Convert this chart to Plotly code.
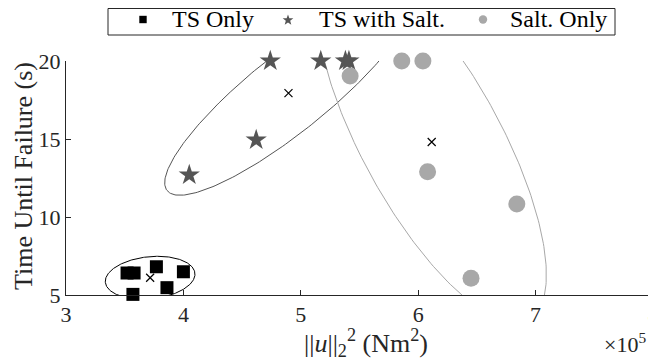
import numpy as np
import plotly.graph_objects as go

# Data (x in units of 1e5 N m^2, y in seconds)
ts_only_x = [3.52, 3.58, 3.77, 4.00, 3.57, 3.86]
ts_only_y = [6.41, 6.41, 6.81, 6.49, 5.04, 5.47]

ts_salt_x = [4.74, 5.17, 5.38, 5.41, 4.62, 4.05]
ts_salt_y = [20.0, 20.0, 20.0, 20.0, 14.94, 12.69]

salt_only_x = [5.86, 6.04, 5.42, 6.08, 6.84, 6.45]
salt_only_y = [20.0, 20.0, 19.04, 12.90, 10.83, 6.07]

series_names = ["TS Only", "TS with Salt.", "Salt. Only"]
x_ticks = [3, 4, 5, 6, 7, 8]
y_ticks = [5, 10, 15, 20]

FONT = "Liberation Serif, Times New Roman, serif"
AX = "#262626"

styles = [("square", 13, "#000000"), ("star", 16, "#555555"), ("circle", 17, "#a8a8a8")]
series = [(ts_only_x, ts_only_y), (ts_salt_x, ts_salt_y), (salt_only_x, salt_only_y)]

# page-pixel layout (the page adds an 8px body margin)
PX0, PX1, PY0, PY1 = 66, 653, 61, 295
OFF = 8
W, H = 656 - OFF, 360 - OFF
LEG_SYM_X = [143, 288, 483]
LEG_TXT_X = [172, 319, 510]
LEG_Y = 19.5


def px(xw):
    return (xw - PX0) / (PX1 - PX0)


def py(yw):
    return (PY1 - yw) / (PY1 - PY0)


def cov_ellipse(x, y, k=2.0, n=300):
    x = np.asarray(x, float)
    y = np.asarray(y, float)
    m = np.array([x.mean(), y.mean()])
    c = np.cov(x, y)
    vals, vecs = np.linalg.eigh(c)
    t = np.linspace(0, 2 * np.pi, n)
    circ = np.vstack([np.cos(t), np.sin(t)])
    pts = vecs @ (np.sqrt(vals)[:, None] * circ) * k
    return m, pts[0] + m[0], pts[1] + m[1]


def legend_symbol(kind, cx, cy, color):
    if kind == "square":
        h = 3.7
        return dict(type="rect", xref="paper", yref="paper",
                    x0=px(cx - h), x1=px(cx + h), y0=py(cy + h), y1=py(cy - h),
                    line=dict(width=0), fillcolor=color, layer="above")
    if kind == "circle":
        r = 4.2
        return dict(type="circle", xref="paper", yref="paper",
                    x0=px(cx - r), x1=px(cx + r), y0=py(cy + r), y1=py(cy - r),
                    line=dict(width=0), fillcolor=color, layer="above")
    # five-point star
    ro, ri = 5.6, 2.3
    ang = -np.pi / 2 + np.arange(10) * np.pi / 5
    rad = np.where(np.arange(10) % 2 == 0, ro, ri)
    xs = cx + rad * np.cos(ang)
    ys = cy + rad * np.sin(ang) + 0.6
    path = "M " + " L ".join(f"{px(a):.5f},{py(b):.5f}" for a, b in zip(xs, ys)) + " Z"
    return dict(type="path", xref="paper", yref="paper", path=path,
                line=dict(width=0), fillcolor=color, layer="above")


fig = go.Figure()

for (xs, ys), (sym, sz, col) in zip(series, styles):
    m, ex, ey = cov_ellipse(xs, ys)
    fig.add_trace(go.Scatter(x=ex, y=ey, mode="lines",
                             line=dict(color=col, width=1),
                             showlegend=False, hoverinfo="skip"))

for name, (xs, ys), (sym, sz, col) in zip(series_names, series, styles):
    fig.add_trace(go.Scatter(x=xs, y=ys, mode="markers", name=name,
                             marker=dict(symbol=sym, size=sz, color=col,
                                         line=dict(width=0)),
                             showlegend=False, cliponaxis=False))

for (xs, ys) in series:
    fig.add_trace(go.Scatter(x=[np.mean(xs)], y=[np.mean(ys)], mode="markers",
                             marker=dict(symbol="x-thin", size=8,
                                         line=dict(color="#000000", width=1.2)),
                             showlegend=False, cliponaxis=False))

shapes = [dict(type="rect", xref="paper", yref="paper",
               x0=px(108), x1=px(615), y0=py(35), y1=py(8.5),
               line=dict(color=AX, width=1), fillcolor="rgba(0,0,0,0)",
               layer="above")]
for (sym, sz, col), sx in zip(styles, LEG_SYM_X):
    shapes.append(legend_symbol(sym, sx, LEG_Y, col))

annotations = [
    dict(text="||<i>u</i>||<sub>2</sub><sup>2</sup> (Nm<sup>2</sup>)",
         xref="paper", yref="paper", x=px(366), y=py(343),
         xanchor="center", yanchor="middle", showarrow=False,
         font=dict(family=FONT, size=26, color=AX)),
    dict(text="Time Until Failure (s)", textangle=-90,
         xref="paper", yref="paper", x=px(23), y=py(176),
         xanchor="center", yanchor="middle", showarrow=False,
         font=dict(family=FONT, size=26, color=AX)),
    dict(text="×10<sup>5</sup>", xref="paper", yref="paper",
         x=px(648), y=py(343), xanchor="right",
         yanchor="middle", showarrow=False,
         font=dict(family=FONT, size=22, color=AX)),
]
for name, tx in zip(series_names, LEG_TXT_X):
    annotations.append(dict(text=name, xref="paper", yref="paper",
                            x=px(tx), y=py(LEG_Y), xanchor="left",
                            yanchor="middle", showarrow=False,
                            xshift=-2,
                            font=dict(family=FONT, size=24, color="#000000")))

fig.update_layout(
    width=W, height=H,
    margin=dict(l=PX0 - OFF, r=W - (PX1 - OFF), t=PY0 - OFF, b=H - (PY1 - OFF),
                autoexpand=False),
    paper_bgcolor="white", plot_bgcolor="white",
    font=dict(family=FONT, size=22, color=AX),
    showlegend=False,
    xaxis=dict(range=[3, 8], tickvals=x_ticks, ticktext=[str(v) for v in x_ticks],
               showgrid=False, zeroline=False, showline=True, linecolor=AX,
               linewidth=1, ticks="inside", ticklen=5, tickcolor=AX,
               automargin=False, ticklabeloverflow="allow",
               tickfont=dict(family=FONT, size=22, color=AX)),
    yaxis=dict(range=[5, 20], tickvals=y_ticks, ticktext=[str(v) for v in y_ticks],
               showgrid=False, zeroline=False, showline=True, linecolor=AX,
               linewidth=1, ticks="inside", ticklen=5, tickcolor=AX,
               automargin=False, ticklabeloverflow="allow",
               tickfont=dict(family=FONT, size=22, color=AX)),
    shapes=shapes,
    annotations=annotations,
)

fig.write_html("out.html")
